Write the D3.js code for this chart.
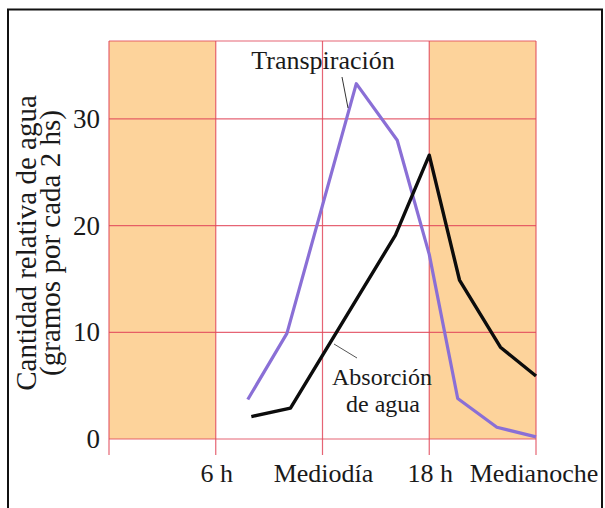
<!DOCTYPE html>
<html><head><meta charset="utf-8">
<script src="https://cdn.jsdelivr.net/npm/d3@7"></script>
<style>
html,body{margin:0;padding:0;background:#fff;}
svg{display:block;}
text{font-family:"Liberation Serif","Times New Roman",serif;fill:#1a1a1a;}
</style></head>
<body>
<svg id="c" width="605" height="508"></svg>
<script>
// Data (hours of day, relative amount of water in grams per 2 h)
const transpHours = [7.8, 10, 13.9, 16.2, 18, 19.6, 21.8, 24];
const transpValues = [3.7, 9.9, 33.3, 28.0, 17.3, 3.8, 1.1, 0.2];
const absorHours = [8, 10.2, 16.1, 18, 19.7, 22, 24];
const absorValues = [2.1, 2.9, 19.1, 26.6, 14.9, 8.6, 5.9];
const nightBands = [[0, 6], [18, 24]];
const xTickHours = [0, 6, 12, 18, 24];
const xTickLabels = ["", "6 h", "Mediodía", "18 h", "Medianoche"];
const yTicks = [0, 10, 20, 30];
const yTitle = ["Cantidad relativa de agua", "(gramos por cada 2 hs)"];
const absorLabel = ["Absorción", "de agua"];

const svg = d3.select("#c");
const x = d3.scaleLinear().domain([0, 24]).range([109, 536]);
const y = d3.scaleLinear().domain([0, 37.3]).range([439, 41]);

// frame
svg.append("path").attr("d", "M8,520 L8,9.5 L602,9.5 L602,520")
  .attr("fill", "none").attr("stroke", "#111").attr("stroke-width", 2);

// night bands
svg.selectAll("rect.band").data(nightBands).join("rect")
  .attr("x", d => x(d[0])).attr("width", d => x(d[1]) - x(d[0]))
  .attr("y", y(37.3)).attr("height", y(0) - y(37.3))
  .attr("fill", "#fdd39b");

const gridColor = "#e24a5c";
// horizontal grid
svg.selectAll("line.h").data(yTicks.concat([37.3])).join("line")
  .attr("x1", x(0)).attr("x2", x(24))
  .attr("y1", d => y(d)).attr("y2", d => y(d))
  .attr("stroke", gridColor).attr("stroke-width", 1.2).attr("opacity", 0.85);
// vertical grid + ticks
svg.selectAll("line.v").data(xTickHours).join("line")
  .attr("x1", d => x(d)).attr("x2", d => x(d))
  .attr("y1", y(37.3)).attr("y2", y(0) + 16)
  .attr("stroke", gridColor).attr("stroke-width", 1.2).attr("opacity", 0.85);

// y tick labels
svg.selectAll("text.yt").data(yTicks).join("text")
  .attr("x", 100).attr("y", d => y(d) + 9)
  .attr("text-anchor", "end").attr("font-size", 27).text(d => d);

// x tick labels
svg.selectAll("text.xt").data(xTickHours).join("text")
  .attr("x", (d, i) => i === 4 ? x(d) - 2 : x(d) + 1).attr("y", 482)
  .attr("text-anchor", "middle").attr("font-size", 26)
  .text((d, i) => xTickLabels[i]);

// y title
const yt = svg.append("text").attr("transform", "translate(36,243) rotate(-90)")
  .attr("text-anchor", "middle").attr("font-size", 29);
yt.append("tspan").attr("x", 0).attr("y", 0).text(yTitle[0]);
yt.append("tspan").attr("x", 0).attr("y", 24).text(yTitle[1]);

const line = d3.line().x(d => x(d[0])).y(d => y(d[1]));
// transpiration
svg.append("path").datum(transpHours.map((h, i) => [h, transpValues[i]]))
  .attr("d", line).attr("fill", "none").attr("stroke", "#8a6fd6")
  .attr("stroke-width", 3.2).attr("stroke-linejoin", "round");
// absorption
svg.append("path").datum(absorHours.map((h, i) => [h, absorValues[i]]))
  .attr("d", line).attr("fill", "none").attr("stroke", "#0c0c0c")
  .attr("stroke-width", 3.4).attr("stroke-linejoin", "round");

// annotations
svg.append("text").attr("x", 323).attr("y", 69).attr("text-anchor", "middle")
  .attr("font-size", 26).text("Transpiración");
svg.append("line").attr("x1", 342).attr("y1", 77).attr("x2", 348).attr("y2", 108)
  .attr("stroke", "#333").attr("stroke-width", 1);
svg.append("line").attr("x1", 334).attr("y1", 344).attr("x2", 357).attr("y2", 358)
  .attr("stroke", "#555").attr("stroke-width", 1);
const at = svg.append("text").attr("text-anchor", "middle").attr("font-size", 24);
at.append("tspan").attr("x", 382).attr("y", 385).text(absorLabel[0]);
at.append("tspan").attr("x", 383).attr("y", 412).text(absorLabel[1]);
</script>
</body></html>
